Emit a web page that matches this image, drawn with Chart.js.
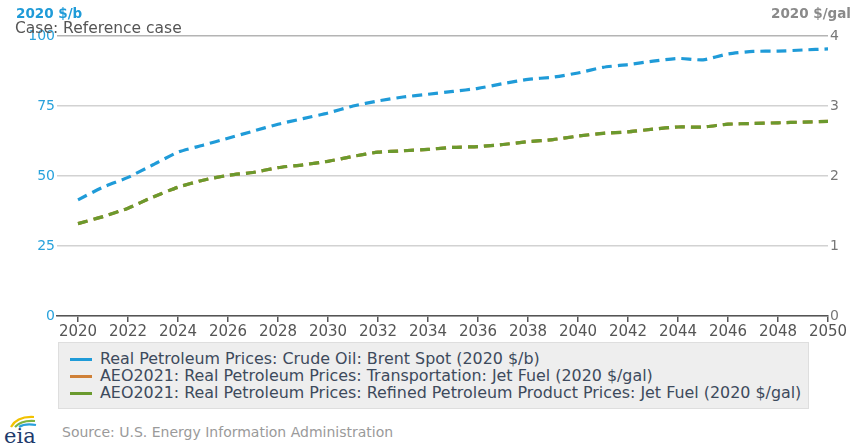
<!DOCTYPE html>
<html>
<head>
<meta charset="utf-8">
<script src="https://cdn.jsdelivr.net/npm/chart.js@4"></script>
<style>
  body { margin: 0; background: #fff; font-family: "DejaVu Sans", sans-serif; }
  #wrap { position: relative; width: 855px; height: 444px; overflow: hidden; }
  #chart { position: absolute; left: 0; top: 0; }
  .legend { position: absolute; left: 58px; top: 342px; width: 751px; height: 67px;
            background: #eeeeee; border: 1px solid #dedede; box-sizing: border-box; }
  .item { position: absolute; left: 11px; height: 18px; font-size: 15.9px; color: #3d4a5c; white-space: nowrap; }
  .item span.mk { position: absolute; left: 0; top: 8px; width: 22px; height: 3px; }
  .item span.tx { position: absolute; left: 30px; top: 0; line-height: 18px; }
  .source { position: absolute; left: 62px; top: 424px; font-size: 14px; color: #9a9a9a; }
  .logo { position: absolute; left: 2px; top: 412px; }
</style>
</head>
<body>
<div id="wrap">
  <canvas id="chart" width="855" height="342"></canvas>
  <div class="legend" id="legend"></div>
  <svg class="logo" width="40" height="32" viewBox="0 0 40 32">
    <path d="M9 15 Q15 4 32 5" stroke="#f2c200" stroke-width="2.2" fill="none"/>
    <path d="M13 15 Q19 8 33 9" stroke="#7cb342" stroke-width="2.2" fill="none"/>
    <path d="M17 15 Q23 11 34 13" stroke="#29a0dc" stroke-width="2.2" fill="none"/>
    <text x="2" y="31" font-family="DejaVu Serif, serif" font-size="21" fill="#1d3a6b">eia</text>
  </svg>
  <div class="source">Source: U.S. Energy Information Administration</div>
</div>
<script>
const years = [2020,2021,2022,2023,2024,2025,2026,2027,2028,2029,2030,2031,2032,2033,2034,2035,
               2036,2037,2038,2039,2040,2041,2042,2043,2044,2045,2046,2047,2048,2049,2050];
const brent = [41.5,46,49.5,54,58.5,61,63.5,66,68.5,70.5,72.5,75,76.8,78.2,79.2,80.2,
               81.3,83,84.5,85.3,86.8,88.8,89.8,91,92,91.5,93.6,94.5,94.6,95,95.4];
const jetTransport = [1.32,1.42,1.54,1.70,1.84,1.94,2.01,2.05,2.12,2.16,2.21,2.28,2.34,2.36,2.38,2.41,
                      2.42,2.45,2.49,2.52,2.57,2.61,2.63,2.67,2.70,2.70,2.74,2.75,2.76,2.77,2.78];
const jetRefined = [1.32,1.42,1.54,1.70,1.84,1.94,2.01,2.05,2.12,2.16,2.21,2.28,2.34,2.36,2.38,2.41,
                    2.42,2.45,2.49,2.52,2.57,2.61,2.63,2.67,2.70,2.70,2.74,2.75,2.76,2.77,2.78];
const xTicks = [2020,2022,2024,2026,2028,2030,2032,2034,2036,2038,2040,2042,2044,2046,2048,2050];
const leftTicks = [0,25,50,75,100];
const rightTicks = [0,1,2,3,4];
const seriesNames = [
  'Real Petroleum Prices: Crude Oil: Brent Spot (2020 $/b)',
  'AEO2021: Real Petroleum Prices: Transportation: Jet Fuel (2020 $/gal)',
  'AEO2021: Real Petroleum Prices: Refined Petroleum Product Prices: Jet Fuel (2020 $/gal)'
];
const seriesColors = ['#1f9bd8', '#cf8037', '#6a9a2e'];

const pts = arr => years.map((y, i) => ({ x: y, y: arr[i] }));

// legend as html
const lg = document.getElementById('legend');
seriesNames.forEach((name, i) => {
  const d = document.createElement('div');
  d.className = 'item';
  d.style.top = (7 + i * 17) + 'px';
  d.innerHTML = '<span class="mk" style="background:' + seriesColors[i] + '"></span><span class="tx"></span>';
  d.querySelector('.tx').textContent = name;
  lg.appendChild(d);
});

const headers = {
  id: 'headers',
  afterDraw(chart) {
    const c = chart.ctx;
    c.save();
    c.textBaseline = 'alphabetic';
    c.textAlign = 'left';
    c.font = 'bold 13.5px "DejaVu Sans"';
    c.fillStyle = '#1f9bd8';
    c.fillText('2020 $/b', 16, 18);
    c.font = '15.5px "DejaVu Sans"';
    c.fillStyle = '#555';
    c.fillText('Case: Reference case', 15, 33);
    c.textAlign = 'right';
    c.font = 'bold 13.5px "DejaVu Sans"';
    c.fillStyle = '#8a8a8a';
    c.fillText('2020 $/gal', 851, 18);
    c.restore();
  }
};

const lineStyle = (label, data, color, axis, order) => ({
  label, data, borderColor: color, backgroundColor: color, yAxisID: axis, order,
  borderWidth: 3.2, borderDash: [10, 6], pointRadius: 0, tension: 0.2, fill: false
});

new Chart(document.getElementById('chart').getContext('2d'), {
  type: 'line',
  data: {
    datasets: [
      lineStyle(seriesNames[0], pts(brent), seriesColors[0], 'y', 0),
      lineStyle(seriesNames[1], pts(jetTransport), seriesColors[1], 'y2', 2),
      lineStyle(seriesNames[2], pts(jetRefined), seriesColors[2], 'y2', 1)
    ]
  },
  options: {
    responsive: false,
    animation: false,
    layout: { padding: { top: 36, left: 0, right: 0, bottom: 0 } },
    plugins: { legend: { display: false }, tooltip: { enabled: false } },
    scales: {
      x: {
        type: 'linear',
        min: 2019.16,
        max: 2050,
        afterBuildTicks: s => { s.ticks = xTicks.map(v => ({ value: v })); },
        afterFit: s => { s.height = 26; },
        ticks: { color: '#555', font: { family: 'DejaVu Sans', size: 15 }, padding: 1,
                 maxRotation: 0, autoSkip: false, callback: v => String(v) },
        grid: { drawOnChartArea: false, drawTicks: true, tickLength: 6, color: '#555', lineWidth: 1.5 },
        border: { display: true, color: '#555', width: 1.5 }
      },
      y: {
        position: 'left',
        min: 0, max: 100,
        afterBuildTicks: s => { s.ticks = leftTicks.map(v => ({ value: v })); },
        afterFit: s => { s.width = 57; },
        ticks: { color: '#29a2dc', font: { family: 'DejaVu Sans', size: 14 }, padding: 2 },
        grid: { drawTicks: false, lineWidth: 1.5,
                color: ctx => ctx.tick && ctx.tick.value === 100 ? '#b4b4b4' : '#d2d2d2' },
        border: { display: false }
      },
      y2: {
        position: 'right',
        min: 0, max: 4,
        afterBuildTicks: s => { s.ticks = rightTicks.map(v => ({ value: v })); },
        afterFit: s => { s.width = 27; },
        ticks: { color: '#777', font: { family: 'DejaVu Sans', size: 14 }, padding: 2 },
        grid: { drawOnChartArea: false, drawTicks: false },
        border: { display: false }
      }
    }
  },
  plugins: [headers]
});
</script>
</body>
</html>
